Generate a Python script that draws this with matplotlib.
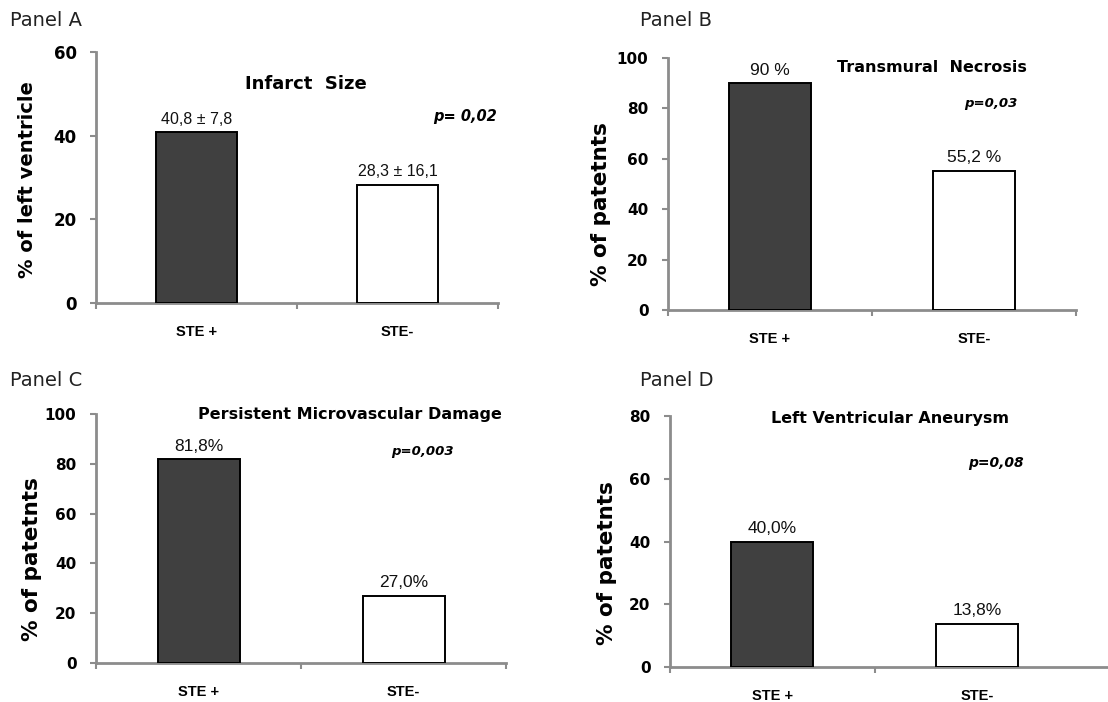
import matplotlib
matplotlib.use("Agg")
import matplotlib.pyplot as plt

W, H = 1108, 702
DPI = 100

categories = ["STE +", "STE-"]

infarct_size = [40.8, 28.3]
infarct_sd = [7.8, 16.1]
infarct_labels = ["40,8 ± 7,8", "28,3 ± 16,1"]

transmural = [90.0, 55.2]
transmural_labels = ["90 %", "55,2 %"]

microvascular = [81.8, 27.0]
microvascular_labels = ["81,8%", "27,0%"]

aneurysm = [40.0, 13.8]
aneurysm_labels = ["40,0%", "13,8%"]

panels = [
    dict(name="Panel A", title="Infarct  Size", values=infarct_size, labels=infarct_labels,
         ymax=60, yticks=[0, 20, 40, 60], ylabel="% of left ventricle", p="p= 0,02",
         box=(96, 498, 52, 303), xmax=1.5, edge_ticks=[-0.5, 0.5, 1.5],
         pname_xy=(10, 21), title_xy=(306, 84), title_fs=13,
         p_xy=(465, 117), p_fs=10.5, ylab_xy=(28, 180), ylab_fs=14, val_fs=11.5, ytick_fs=12),
    dict(name="Panel B", title="Transmural  Necrosis", values=transmural, labels=transmural_labels,
         ymax=100, yticks=[0, 20, 40, 60, 80, 100], ylabel="% of patetnts", p="p=0,03",
         box=(668, 1076, 58, 310), xmax=1.5, edge_ticks=[-0.5, 0.5, 1.5],
         pname_xy=(640, 21), title_xy=(932, 67), title_fs=11.5,
         p_xy=(991, 103), p_fs=9.5, ylab_xy=(601, 204), ylab_fs=15.5, val_fs=12.5, ytick_fs=11),
    dict(name="Panel C", title="Persistent Microvascular Damage", values=microvascular, labels=microvascular_labels,
         ymax=100, yticks=[0, 20, 40, 60, 80, 100], ylabel="% of patetnts", p="p=0,003",
         box=(96, 506, 414, 663), xmax=1.5, edge_ticks=[-0.5, 0.5, 1.5],
         pname_xy=(10, 380), title_xy=(350, 414), title_fs=11.5,
         p_xy=(422, 451), p_fs=9.5, ylab_xy=(32, 559), ylab_fs=15.5, val_fs=12.5, ytick_fs=11),
    dict(name="Panel D", title="Left Ventricular Aneurysm", values=aneurysm, labels=aneurysm_labels,
         ymax=80, yticks=[0, 20, 40, 60, 80], ylabel="% of patetnts", p="p=0,08",
         box=(670, 1108, 416, 667), xmax=1.637, edge_ticks=[-0.5, 0.5],
         pname_xy=(640, 380), title_xy=(890, 418), title_fs=11.5,
         p_xy=(996, 463), p_fs=10, ylab_xy=(607, 563), ylab_fs=15.5, val_fs=12.5, ytick_fs=11),
]

fig = plt.figure(figsize=(W / DPI, H / DPI), dpi=DPI)
fig.patch.set_facecolor("white")

SPINE = "#8c8c8c"
BAR_COLORS = ["#404040", "#ffffff"]

for p in panels:
    l, r, t, b = p["box"]
    ax = fig.add_axes([l / W, 1 - b / H, (r - l) / W, (b - t) / H])
    x = list(range(len(categories)))
    ax.bar(x, p["values"], width=0.4, color=BAR_COLORS, edgecolor="black", linewidth=1.4, zorder=3)
    ax.set_xlim(-0.5, p["xmax"])
    ax.set_ylim(0, p["ymax"])
    for s in ["top", "right"]:
        ax.spines[s].set_visible(False)
    for s in ["left", "bottom"]:
        ax.spines[s].set_color(SPINE)
        ax.spines[s].set_linewidth(2)
    ax.set_yticks(p["yticks"])
    ax.set_yticklabels([str(v) for v in p["yticks"]], fontfamily="DejaVu Sans",
                       fontweight="bold", fontsize=p["ytick_fs"])
    ax.tick_params(axis="y", length=4, width=1.5, color=SPINE, pad=10)
    ax.set_xticks(x)
    ax.set_xticklabels(categories, fontfamily="Liberation Sans", fontweight="bold", fontsize=10.5)
    ax.tick_params(axis="x", which="major", length=0, pad=16)
    ax.set_xticks(p["edge_ticks"], minor=True)
    ax.tick_params(axis="x", which="minor", length=4, width=1.5, color=SPINE)

    for xi, v, lab in zip(x, p["values"], p["labels"]):
        ax.annotate(lab, (xi, v), xytext=(0, 4), textcoords="offset points",
                    ha="center", va="bottom", fontsize=p["val_fs"],
                    fontfamily="Liberation Sans", color="#111111")

    fig.text(p["title_xy"][0] / W, 1 - p["title_xy"][1] / H, p["title"], ha="center", va="center",
             fontsize=p["title_fs"], fontweight="bold", fontfamily="DejaVu Sans")
    fig.text(p["p_xy"][0] / W, 1 - p["p_xy"][1] / H, p["p"], ha="center", va="center",
             fontsize=p["p_fs"], fontweight="bold", fontstyle="italic", fontfamily="DejaVu Sans")
    fig.text(p["ylab_xy"][0] / W, 1 - p["ylab_xy"][1] / H, p["ylabel"], ha="center", va="center",
             rotation=90, fontsize=p["ylab_fs"], fontweight="bold", fontfamily="DejaVu Sans")
    fig.text(p["pname_xy"][0] / W, 1 - p["pname_xy"][1] / H, p["name"], ha="left", va="center",
             fontsize=14, fontfamily="DejaVu Sans", color="#222222")

fig.savefig("out.png", dpi=DPI, facecolor="white")
